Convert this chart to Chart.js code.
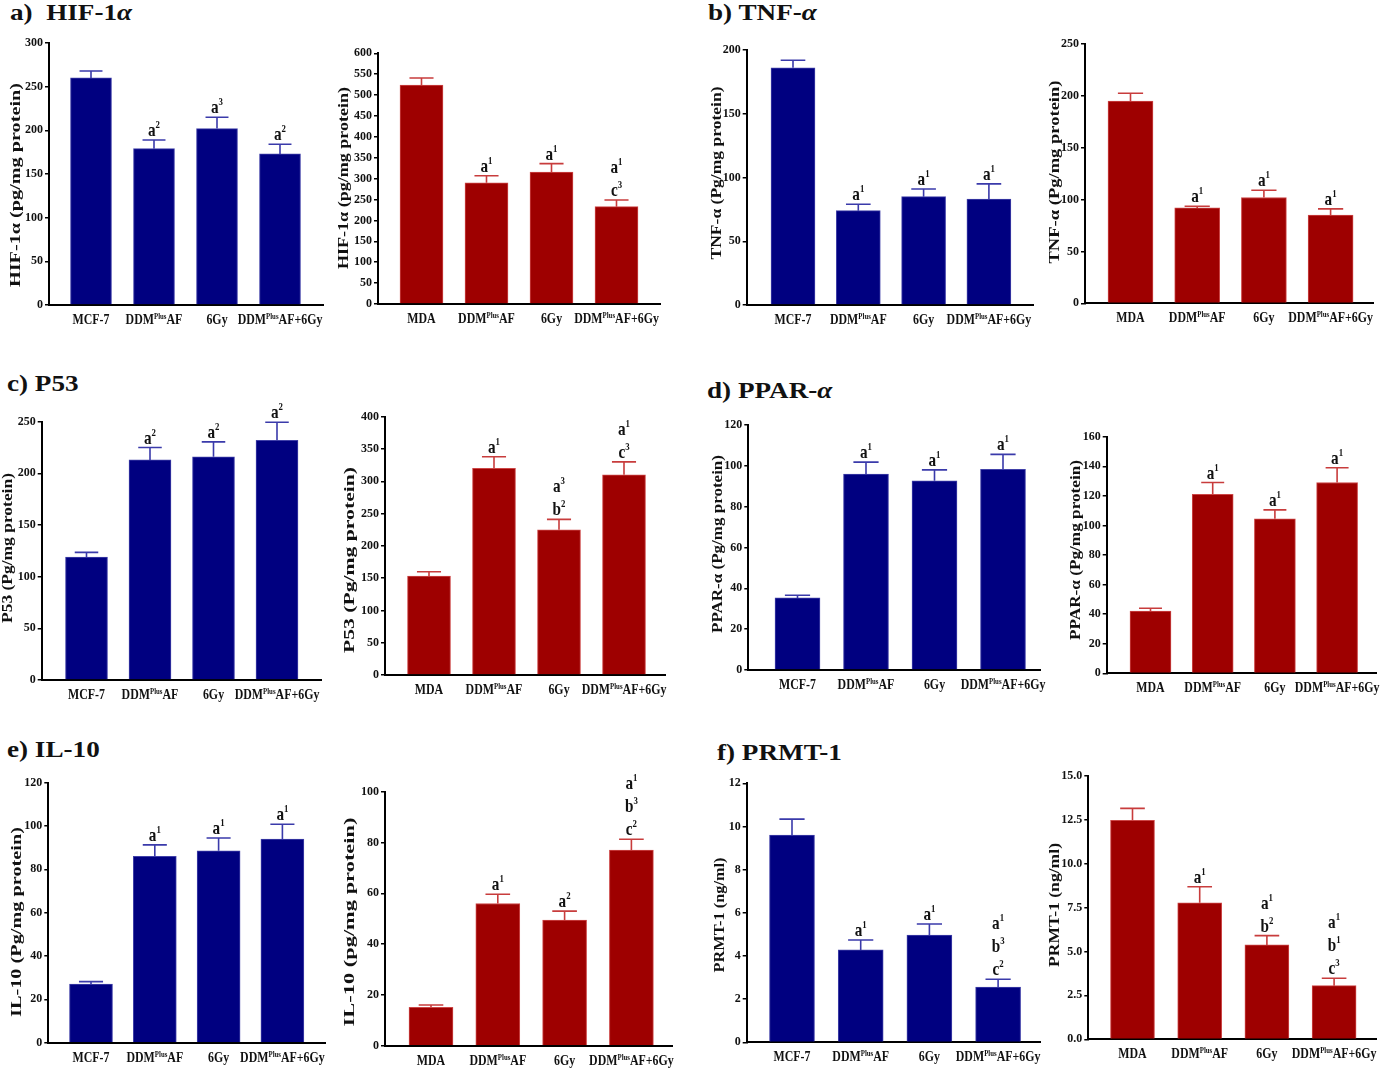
<!DOCTYPE html>
<html>
<head>
<meta charset="utf-8">
<script src="https://cdn.jsdelivr.net/npm/chart.js@4.4.1/dist/chart.umd.min.js"></script>
<style>
  html, body { margin: 0; padding: 0; background: #fff; }
  body { width: 1381px; height: 1074px; position: relative; overflow: hidden; }
  canvas { position: absolute; }
  .ptitle {
    position: absolute; font: bold 23px "Liberation Serif", "Times New Roman", Times; line-height: 23px;
    transform-origin: 0 0; transform: scaleX(1.18); white-space: pre; color: #111;
  }
</style>
</head>
<body>
<div class="ptitle" style="left:10px;top:1px">a)  HIF-1<i>α</i></div>
<div class="ptitle" style="left:708px;top:1px">b) TNF-<i>α</i></div>
<div class="ptitle" style="left:7px;top:372px">c) P53</div>
<div class="ptitle" style="left:707px;top:379px">d) PPAR-<i>α</i></div>
<div class="ptitle" style="left:7px;top:738px">e) IL-10</div>
<div class="ptitle" style="left:717px;top:741px">f) PRMT-1</div>

<script>
// groups on the x axis
const mcfGroups = ['MCF-7', 'DDM^{Plus}AF', '6Gy', 'DDM^{Plus}AF+6Gy'];
const mdaGroups = ['MDA', 'DDM^{Plus}AF', '6Gy', 'DDM^{Plus}AF+6Gy'];

// means and upper error (SEM)
const hifMcf = [260, 179, 202, 173];
const hifMcfErr = [8, 10, 13, 11];
const hifMda = [524, 290, 316, 233];
const hifMdaErr = [17, 17, 20, 16];
const tnfMcf = [186, 74, 85, 83];
const tnfMcfErr = [6, 5, 6, 12];
const tnfMda = [195, 92, 102, 85];
const tnfMdaErr = [7.5, 1.5, 7, 6];
const p53Mcf = [119, 213, 216, 232];
const p53McfErr = [4.5, 12, 14.5, 17.5];
const p53Mda = [153, 320, 225, 310];
const p53MdaErr = [7, 18, 16, 20];
const pparMcf = [35.3, 96, 92.7, 98.3];
const pparMcfErr = [1.3, 5.8, 5.3, 7.3];
const pparMda = [42, 121, 104.5, 129];
const pparMdaErr = [2, 8, 6, 10];
const il10Mcf = [27, 86, 88.6, 94];
const il10McfErr = [1.2, 5.3, 5.9, 6.8];
const il10Mda = [15.1, 56, 49.5, 77];
const il10MdaErr = [0.9, 3.6, 3.5, 4.3];
const prmtMcf = [9.6, 4.28, 4.97, 2.56];
const prmtMcfErr = [0.74, 0.46, 0.51, 0.36];
const prmtMda = [12.46, 7.77, 5.37, 3.05];
const prmtMdaErr = [0.68, 0.91, 0.53, 0.42];

// significance letters above each bar (top line first)
const hifMcfSig = [[], ['a^{2}'], ['a^{3}'], ['a^{2}']];
const hifMdaSig = [[], ['a^{1}'], ['a^{1}'], ['a^{1}', 'c^{3}']];
const tnfSig = [[], ['a^{1}'], ['a^{1}'], ['a^{1}']];
const p53McfSig = [[], ['a^{2}'], ['a^{2}'], ['a^{2}']];
const p53MdaSig = [[], ['a^{1}'], ['a^{3}', 'b^{2}'], ['a^{1}', 'c^{3}']];
const pparSig = [[], ['a^{1}'], ['a^{1}'], ['a^{1}']];
const il10McfSig = [[], ['a^{1}'], ['a^{1}'], ['a^{1}']];
const il10MdaSig = [[], ['a^{1}'], ['a^{2}'], ['a^{1}', 'b^{3}', 'c^{2}']];
const prmtMcfSig = [[], ['a^{1}'], ['a^{1}'], ['a^{1}', 'b^{3}', 'c^{2}']];
const prmtMdaSig = [[], ['a^{1}'], ['a^{1}', 'b^{2}'], ['a^{1}', 'b^{1}', 'c^{3}']];

// y tick values
const hifMcfTicks = [0, 50, 100, 150, 200, 250, 300];
const hifMdaTicks = [0, 50, 100, 150, 200, 250, 300, 350, 400, 450, 500, 550, 600];
const tnfMcfTicks = [0, 50, 100, 150, 200];
const tnfMdaTicks = [0, 50, 100, 150, 200, 250];
const p53McfTicks = [0, 50, 100, 150, 200, 250];
const p53MdaTicks = [0, 50, 100, 150, 200, 250, 300, 350, 400];
const pparMcfTicks = [0, 20, 40, 60, 80, 100, 120];
const pparMdaTicks = [0, 20, 40, 60, 80, 100, 120, 140, 160];
const il10McfTicks = [0, 20, 40, 60, 80, 100, 120];
const il10MdaTicks = [0, 20, 40, 60, 80, 100];
const prmtMcfTicks = [0, 2, 4, 6, 8, 10, 12];
const prmtMdaTicks = [0, 2.5, 5, 7.5, 10, 12.5, 15];

const colors = {
  blue: { fill: '#000080', edge: '#4040a8', err: '#3a3aaa' },
  red: { fill: '#9e0000', edge: '#cc4646', err: '#c83c3c' }
};
const FONT = '"Liberation Serif", "Times New Roman", Times';

// page geometry of each plot: axis x, top tick y, zero y, axis end, first bar centre, spacing, bar width, y title
const panels = [
  { groups: mcfGroups, mean: hifMcf, err: hifMcfErr, sig: hifMcfSig, ticks: hifMcfTicks, col: 'blue', title: 'HIF-1α (pg/mg protein)',
    g: { ax: 49, top: 43, zero: 305, end: 323, c1: 91, sp: 63, bw: 41, tx: 16, tcy: 185, tlen: 204 } },
  { groups: mdaGroups, mean: hifMda, err: hifMdaErr, sig: hifMdaSig, ticks: hifMdaTicks, col: 'red', title: 'HIF-1α (pg/mg protein)',
    g: { ax: 378, top: 53.3, zero: 304, end: 660, c1: 421.5, sp: 65, bw: 43, tx: 344, tcy: 178, tlen: 182 } },
  { groups: mcfGroups, mean: tnfMcf, err: tnfMcfErr, sig: tnfSig, ticks: tnfMcfTicks, col: 'blue', title: 'TNF-α (Pg/mg protein)',
    g: { ax: 746.7, top: 50, zero: 305, end: 1033, c1: 793, sp: 65.3, bw: 44, tx: 717, tcy: 173, tlen: 173 } },
  { groups: mdaGroups, mean: tnfMda, err: tnfMdaErr, sig: tnfSig, ticks: tnfMdaTicks, col: 'red', title: 'TNF-α (Pg/mg protein)',
    g: { ax: 1085, top: 44, zero: 303.3, end: 1373, c1: 1130.5, sp: 66.7, bw: 45, tx: 1055, tcy: 172, tlen: 183 } },
  { groups: mcfGroups, mean: p53Mcf, err: p53McfErr, sig: p53McfSig, ticks: p53McfTicks, col: 'blue', title: 'P53 (Pg/mg protein)',
    g: { ax: 41.7, top: 421.7, zero: 680, end: 321.7, c1: 86.5, sp: 63.5, bw: 42, tx: 8, tcy: 548, tlen: 150 } },
  { groups: mdaGroups, mean: p53Mda, err: p53MdaErr, sig: p53MdaSig, ticks: p53MdaTicks, col: 'red', title: 'P53 (Pg/mg protein)',
    g: { ax: 385, top: 416.7, zero: 675, end: 665, c1: 429, sp: 65, bw: 43, tx: 350, tcy: 560, tlen: 186 } },
  { groups: mcfGroups, mean: pparMcf, err: pparMcfErr, sig: pparSig, ticks: pparMcfTicks, col: 'blue', title: 'PPAR-α (Pg/mg protein)',
    g: { ax: 748.3, top: 425, zero: 670, end: 1040, c1: 797.5, sp: 68.5, bw: 45, tx: 718, tcy: 544, tlen: 178 } },
  { groups: mdaGroups, mean: pparMda, err: pparMdaErr, sig: pparSig, ticks: pparMdaTicks, col: 'red', title: 'PPAR-α (Pg/mg protein)',
    g: { ax: 1106.7, top: 436.7, zero: 673.3, end: 1376.7, c1: 1150.5, sp: 62.2, bw: 41, tx: 1076, tcy: 550, tlen: 180 } },
  { groups: mcfGroups, mean: il10Mcf, err: il10McfErr, sig: il10McfSig, ticks: il10McfTicks, col: 'blue', title: 'IL-10 (Pg/mg protein)',
    g: { ax: 48.3, top: 782.7, zero: 1042.7, end: 325, c1: 91, sp: 63.8, bw: 43, tx: 17, tcy: 922, tlen: 190 } },
  { groups: mdaGroups, mean: il10Mda, err: il10MdaErr, sig: il10MdaSig, ticks: il10MdaTicks, col: 'red', title: 'IL-10 (pg/mg protein)',
    g: { ax: 385, top: 791.7, zero: 1045.7, end: 672, c1: 431, sp: 66.8, bw: 44, tx: 350, tcy: 922, tlen: 209 } },
  { groups: mcfGroups, mean: prmtMcf, err: prmtMcfErr, sig: prmtMcfSig, ticks: prmtMcfTicks, col: 'blue', title: 'PRMT-1 (ng/ml)',
    g: { ax: 746.7, top: 783.3, zero: 1042.3, end: 1040, c1: 792, sp: 68.7, bw: 45, tx: 720, tcy: 915, tlen: 115 } },
  { groups: mdaGroups, mean: prmtMda, err: prmtMdaErr, sig: prmtMdaSig, ticks: prmtMdaTicks, col: 'red', title: 'PRMT-1 (ng/ml)', dec: 1,
    g: { ax: 1088.3, top: 775.7, zero: 1039.3, end: 1376, c1: 1132.5, sp: 67.2, bw: 44, tx: 1055, tcy: 905, tlen: 124 } }
];

// split 'DDM^{Plus}AF' into normal / superscript pieces
function richParts(str) {
  const parts = [];
  const re = /\^\{([^}]*)\}/g;
  let last = 0, m;
  while ((m = re.exec(str))) {
    if (m.index > last) parts.push({ t: str.slice(last, m.index), sup: false });
    parts.push({ t: m[1], sup: true });
    last = re.lastIndex;
  }
  if (last < str.length) parts.push({ t: str.slice(last), sup: false });
  return parts;
}

function drawRich(ctx, str, cx, y, size, supSize, rise, sx) {
  const parts = richParts(str);
  const fontOf = s => `bold ${s}px ${FONT}`;
  let w = 0;
  parts.forEach(p => { ctx.font = fontOf(p.sup ? supSize : size); p.w = ctx.measureText(p.t).width; w += p.w; });
  ctx.save();
  ctx.translate(cx, y);
  ctx.scale(sx, 1);
  ctx.textAlign = 'left';
  ctx.textBaseline = 'alphabetic';
  let x = -w / 2;
  parts.forEach(p => {
    ctx.font = fontOf(p.sup ? supSize : size);
    ctx.fillText(p.t, x, p.sup ? -rise : 0);
    x += p.w;
  });
  ctx.restore();
}

const byCanvas = {};

const decor = {
  id: 'decor',
  afterDatasetsDraw(chart) {
    const p = byCanvas[chart.canvas.id];
    const ctx = chart.ctx;
    const ys = chart.scales.y;
    const meta = chart.getDatasetMeta(0);
    const c = colors[p.col];
    ctx.save();
    ctx.strokeStyle = c.err;
    ctx.lineWidth = 1.6;
    meta.data.forEach((bar, i) => {
      const yTop = ys.getPixelForValue(p.mean[i] + p.err[i]);
      const half = p.g.bw * 0.28;
      ctx.beginPath();
      ctx.moveTo(bar.x, bar.y);
      ctx.lineTo(bar.x, yTop);
      ctx.moveTo(bar.x - half, yTop);
      ctx.lineTo(bar.x + half, yTop);
      ctx.stroke();
    });
    ctx.restore();
  },
  afterDraw(chart) {
    const p = byCanvas[chart.canvas.id];
    const ctx = chart.ctx;
    const ys = chart.scales.y;
    const xs = chart.scales.x;
    ctx.save();
    ctx.fillStyle = '#111';
    // significance letters
    p.sig.forEach((lines, i) => {
      const x = xs.getPixelForValue(i + 1);
      const yTop = ys.getPixelForValue(p.mean[i] + p.err[i]);
      lines.forEach((s, k) => {
        const y = yTop - 4 - (lines.length - 1 - k) * 23;
        drawRich(ctx, s, x, y, 19, 11, 8, 0.8);
      });
    });
    // x group labels
    const base = chart.chartArea.bottom + 19;
    p.groups.forEach((s, i) => {
      drawRich(ctx, s, xs.getPixelForValue(i + 1), base, 14, 8, 5, 0.85);
    });
    // y axis title
    ctx.translate(p.g.tx - p.L, p.g.tcy - p.T);
    ctx.rotate(-Math.PI / 2);
    ctx.font = `bold 15px ${FONT}`;
    const nat = ctx.measureText(p.title).width;
    ctx.scale(p.g.tlen / nat, 1);
    ctx.textAlign = 'center';
    ctx.textBaseline = 'middle';
    ctx.fillText(p.title, 0, 0);
    ctx.restore();
  }
};

panels.forEach((p, idx) => {
  const g = p.g;
  const L = Math.floor(Math.min(g.ax - 46, g.tx - 10));
  const T = Math.floor(g.top - 42);
  const R = Math.ceil(g.end + 6);
  const B = Math.ceil(g.zero + 30);
  p.L = L; p.T = T;
  const cv = document.createElement('canvas');
  cv.id = 'chart' + idx;
  cv.style.left = L + 'px';
  cv.style.top = T + 'px';
  cv.style.width = (R - L) + 'px';
  cv.style.height = (B - T) + 'px';
  cv.width = R - L;
  cv.height = B - T;
  document.body.appendChild(cv);
  byCanvas[cv.id] = p;

  const xMin = 1 - (g.c1 - g.ax) / g.sp;
  const xMax = xMin + (g.end - g.ax) / g.sp;
  const c = colors[p.col];

  new Chart(cv.getContext('2d'), {
    type: 'bar',
    data: {
      datasets: [{
        data: p.mean.map((v, i) => ({ x: i + 1, y: v })),
        backgroundColor: c.fill,
        borderColor: c.edge,
        borderWidth: 1,
        barThickness: g.bw
      }]
    },
    options: {
      responsive: false,
      animation: false,
      events: [],
      layout: { padding: { left: 0, top: g.top - T, right: R - g.end, bottom: B - g.zero } },
      plugins: { legend: { display: false }, tooltip: { enabled: false } },
      scales: {
        x: {
          type: 'linear', min: xMin, max: xMax, offset: false,
          ticks: { display: false },
          grid: { display: false, drawTicks: false },
          border: { display: true, color: '#000', width: 2 },
          afterFit: s => { s.height = 0; }
        },
        y: {
          min: 0, max: p.ticks[p.ticks.length - 1],
          afterBuildTicks: s => { s.ticks = p.ticks.map(v => ({ value: v })); },
          afterFit: s => { s.width = g.ax - L; },
          ticks: {
            color: '#111', padding: 2, font: { family: FONT, size: 12, weight: 'bold' },
            callback: v => p.dec ? v.toFixed(p.dec) : String(v)
          },
          grid: { drawOnChartArea: false, drawTicks: true, tickLength: 4, color: '#000', lineWidth: 1.5 },
          border: { display: true, color: '#000', width: 2 }
        }
      }
    },
    plugins: [decor]
  });
});
</script>
</body>
</html>
